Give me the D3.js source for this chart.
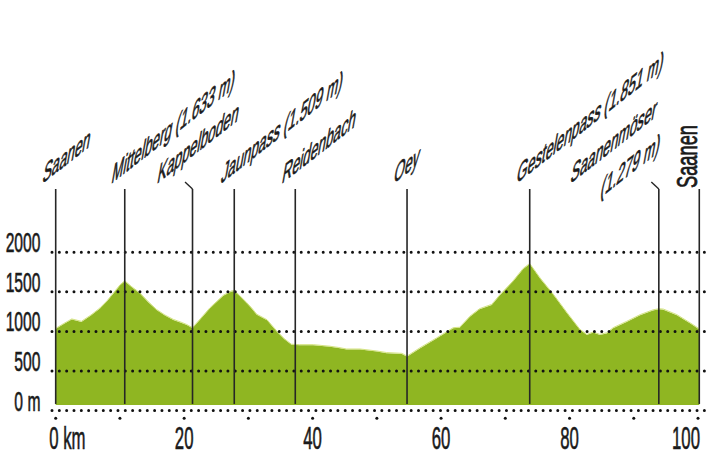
<!DOCTYPE html>
<html>
<head>
<meta charset="utf-8">
<script src="https://cdn.jsdelivr.net/npm/d3@7"></script>
<style>
  html, body { margin: 0; padding: 0; background: #fff; }
  svg { display: block; }
  text { font-family: "Liberation Sans", Arial, sans-serif; fill: #1a1a1a; stroke: #1a1a1a; stroke-width: 0.6; }
  .wp-label text { stroke-width: 0.75; }
</style>
</head>
<body>
<svg id="chart" width="712" height="455"></svg>
<script>
// Route profile Saanen – Jaunpass – Saanenmöser loop: distance (km) and elevation (m)
const distanceKm = [0, 1.2, 2.5, 4.0, 5.5, 6.9, 8.0, 9.0, 10.0, 10.75, 11.8, 13.1, 14.4, 15.7, 17.0, 18.3, 19.5, 20.4, 21.3,
  22.6, 24.0, 26.1, 27.4, 27.8, 28.6, 29.7, 30.5, 31.3, 32.9, 34.4, 35.6, 36.7, 38.0, 40.1, 42.7, 44.0, 45.3, 47.4,
  50.0, 51.5, 53.9, 54.7, 56.7, 59.3, 61.9, 62.9, 64.5, 66.0, 67.9, 69.2, 71.2, 72.8, 73.8, 75.4, 77.5, 79.6, 81.6,
  82.7, 83.7, 84.7, 85.8, 86.8, 88.9, 91.0, 93.0, 93.9, 94.6, 96.7, 98.8, 100.2];
const elevationM = [1030, 1090, 1150, 1120, 1200, 1290, 1380, 1480, 1580, 1633, 1560, 1480, 1370, 1270, 1200, 1145, 1110, 1080, 1040,
  1160, 1290, 1450, 1505, 1509, 1450, 1360, 1290, 1210, 1140, 1000, 900, 830, 825, 825, 805, 790, 770, 770,
  745, 725, 715, 680, 785, 910, 1040, 1045, 1185, 1280, 1335, 1460, 1630, 1790, 1851, 1670, 1460, 1230, 1020,
  955, 985, 955, 975, 1040, 1120, 1205, 1265, 1279, 1275, 1205, 1100, 1025];

// Waypoints along the route
const waypointKm = [0, 10.75, 21.3, 27.8, 37.3, 54.7, 73.8, 93.9, 100.2];
const waypointNames = [["Saanen"], ["Mittelberg (1.633 m)"], ["Kappelboden"], ["Jaunpass (1.509 m)"], ["Reidenbach"],
  ["Oey"], ["Gestelenpass (1.851 m)"], ["Saanenmöser", "(1.279 m)"], ["Saanen"]];
// label shift along x (px) for crowded waypoints, and upright (vertical) labels
const waypointShift = [0, 0, -22, 0, 0, 0, 0, -75, 0];
const waypointUpright = [false, false, false, false, false, false, false, false, true];

// Axes
const elevTicks = [0, 500, 1000, 1500, 2000];
const elevTickLabels = ["0 m", "500", "1000", "1500", "2000"];
const kmTicks = [0, 20, 40, 60, 80, 100];
const kmTickLabels = ["0 km", "20", "40", "60", "80", "100"];
const kmMinorTicks = d3.range(0, 101, 10);

const svg = d3.select("#chart");
const x = d3.scaleLinear().domain([0, 100]).range([55.7, 698]);
const y = d3.scaleLinear().domain([0, 2000]).range([410.5, 252.3]);
const baseElev = 70;        // filled area and marker lines stop just above the axis
const lineTopY = 189;       // top of the waypoint marker lines

const profile = distanceKm.map((d, i) => ({ d, e: elevationM[i] }));

// Elevation area
const area = d3.area()
  .x(p => x(p.d))
  .y0(y(baseElev))
  .y1(p => y(p.e))
  .curve(d3.curveLinear);
svg.append("path")
  .datum(profile)
  .attr("d", area)
  .attr("fill", "#8fb622");

// Pale rim along the top of the profile
svg.append("path")
  .datum(profile)
  .attr("d", d3.line().x(p => x(p.d)).y(p => y(p.e) - 0.6))
  .attr("fill", "none")
  .attr("stroke", "#c9dc63")
  .attr("stroke-opacity", 0.8)
  .attr("stroke-width", 1);

// Dotted grid lines (including the baseline)
const gridX0 = 52, gridX1 = 711;
svg.append("g").selectAll("line").data(elevTicks).join("line")
  .attr("x1", gridX0).attr("x2", gridX1)
  .attr("y1", d => y(d)).attr("y2", d => y(d))
  .attr("stroke", "#111").attr("stroke-width", 3)
  .attr("stroke-linecap", "round")
  .attr("stroke-dasharray", "0 7.33");

// Minor km tick dots
svg.append("g").selectAll("circle").data(kmMinorTicks).join("circle")
  .attr("cx", d => x(d)).attr("cy", 418.3).attr("r", 1.5).attr("fill", "#111");

// Elevation labels (baseline on the grid line), condensed
svg.append("g").selectAll("text").data(elevTicks).join("text")
  .attr("transform", d => `translate(40.5,${y(d)}) scale(0.57,1)`)
  .attr("text-anchor", "end")
  .attr("font-size", 27.5)
  .text((d, i) => elevTickLabels[i]);

// Distance labels
svg.append("g").selectAll("text").data(kmTicks).join("text")
  .attr("transform", (d, i) => {
    const off = i === 0 ? -6.5 : (i === kmTicks.length - 1 ? 2 : 0);
    return `translate(${x(d) + off},448.5) scale(0.55,1)`;
  })
  .attr("text-anchor", (d, i) => i === 0 ? "start" : (i === kmTicks.length - 1 ? "end" : "middle"))
  .attr("font-size", 30.5)
  .text((d, i) => kmTickLabels[i]);

// Waypoint marker lines
svg.append("g").selectAll("line").data(waypointKm).join("line")
  .attr("x1", d => x(d)).attr("x2", d => x(d))
  .attr("y1", lineTopY).attr("y2", y(baseElev) - 1)
  .attr("stroke", "#262626").attr("stroke-width", 1.6);

// Short leaders for shifted labels
svg.append("g").selectAll("line").data(waypointKm.filter((d, i) => waypointShift[i] !== 0)).join("line")
  .attr("x1", d => x(d) - 7.5).attr("y1", lineTopY - 7)
  .attr("x2", d => x(d)).attr("y2", lineTopY)
  .attr("stroke", "#262626").attr("stroke-width", 1.4);

// Waypoint labels: rising baseline, glyph stems leaning slightly right (sheared)
const deg = Math.PI / 180;
const baseAng = 38 * deg;      // baseline direction
const stemAng = 80 * deg;      // glyph "up" direction
const labelFont = 29;
const sAlong = 0.6;            // horizontal glyph scale along the baseline
const sUp = 1.0;               // glyph height scale along the stem
const lineIndent = [30, 14];   // second-line offset (px)
const labelG = svg.append("g").attr("class", "wp-label");
waypointKm.forEach((k, i) => {
  const px = x(k) + waypointShift[i];
  if (waypointUpright[i]) {
    labelG.append("text")
      .attr("transform", `translate(${px - 2.5},188) rotate(-90) scale(0.63,1)`)
      .attr("font-size", labelFont)
      .text(waypointNames[i][0]);
    return;
  }
  waypointNames[i].forEach((t, j) => {
    const tx = px - 14 + j * lineIndent[0];
    const ty = 184 + j * lineIndent[1];
    const a = sAlong * Math.cos(baseAng), b = -sAlong * Math.sin(baseAng);
    const c = -sUp * Math.cos(stemAng), d = sUp * Math.sin(stemAng);
    labelG.append("text")
      .attr("transform", `matrix(${a},${b},${c},${d},${tx},${ty})`)
      .attr("font-size", labelFont)
      .text(t);
  });
});
</script>
</body>
</html>
